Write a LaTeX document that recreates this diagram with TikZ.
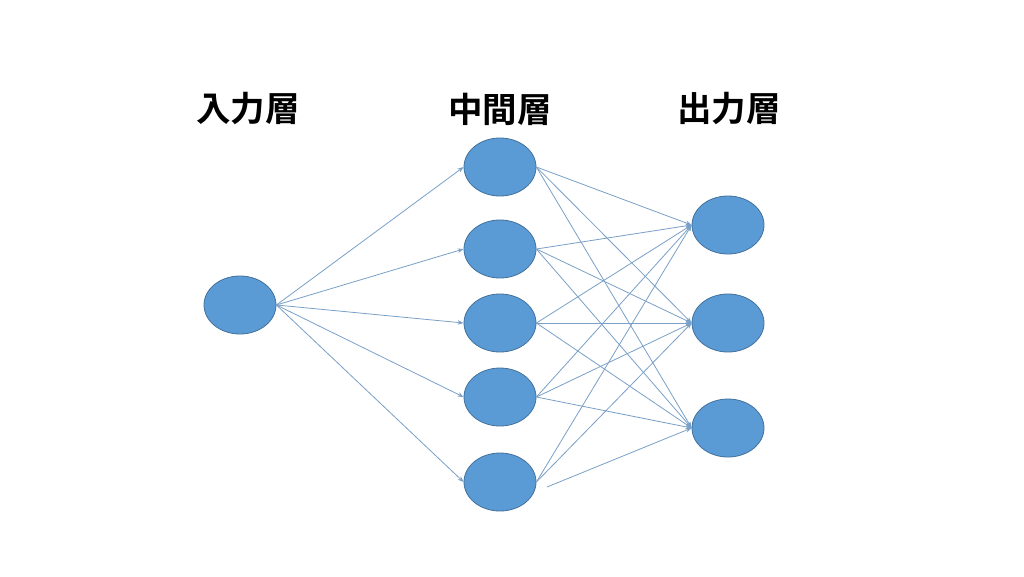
\documentclass[tikz,border=0pt]{standalone}
\usepackage{fontspec}
\newfontfamily\cjk{Noto Sans CJK JP}[BoldFont={Noto Sans CJK JP Bold}]
\usetikzlibrary{shapes.geometric,arrows.meta}
\definecolor{nodefill}{RGB}{91,155,213}
\definecolor{nodeline}{RGB}{65,113,156}
\definecolor{edgecol}{RGB}{122,160,200}
\tikzset{
  neuron/.style={ellipse, fill=nodefill, draw=nodeline, line width=0.8pt, minimum width=72pt, minimum height=58pt, inner sep=0pt},
  layertitle/.style={font=\cjk\bfseries\fontsize{34.5}{38}\selectfont, text=black},
  conn/.style={draw=edgecol, line width=0.8pt, -{Stealth[length=6pt,width=4.5pt]}}
}
\begin{document}
\begin{tikzpicture}[x=1pt,y=-1pt]
\useasboundingbox (0,0) rectangle (1024,576);
\fill[white] (0,0) rectangle (1024,576);
\node[layertitle] (t1) at (248,109) {入力層};
\node[layertitle] (t2) at (500,109) {中間層};
\node[layertitle] (t3) at (729,109) {出力層};
\node[neuron] (i) at (240,305) {};
\node[neuron] (h1) at (500,167) {};
\node[neuron] (h2) at (500,249) {};
\node[neuron] (h3) at (500,323) {};
\node[neuron] (h4) at (500,397) {};
\node[neuron] (h5) at (500,482) {};
\node[neuron] (o1) at (728,225) {};
\node[neuron] (o2) at (728,323) {};
\node[neuron] (o3) at (728,428) {};
\coordinate (f5) at (547,487);
\foreach \h in {h1,h2,h3,h4,h5}
  \draw[conn] (i.east) -- (\h.west);
\foreach \h in {h1,h2,h3,h4}
  \foreach \o in {o1,o2,o3}
    \draw[conn] (\h.east) -- (\o.west);
\draw[conn] (h5.east) -- (o1.west);
\draw[conn] (h5.east) -- (o2.west);
\draw[conn] (f5) -- (o3.west);
\end{tikzpicture}
\end{document}
